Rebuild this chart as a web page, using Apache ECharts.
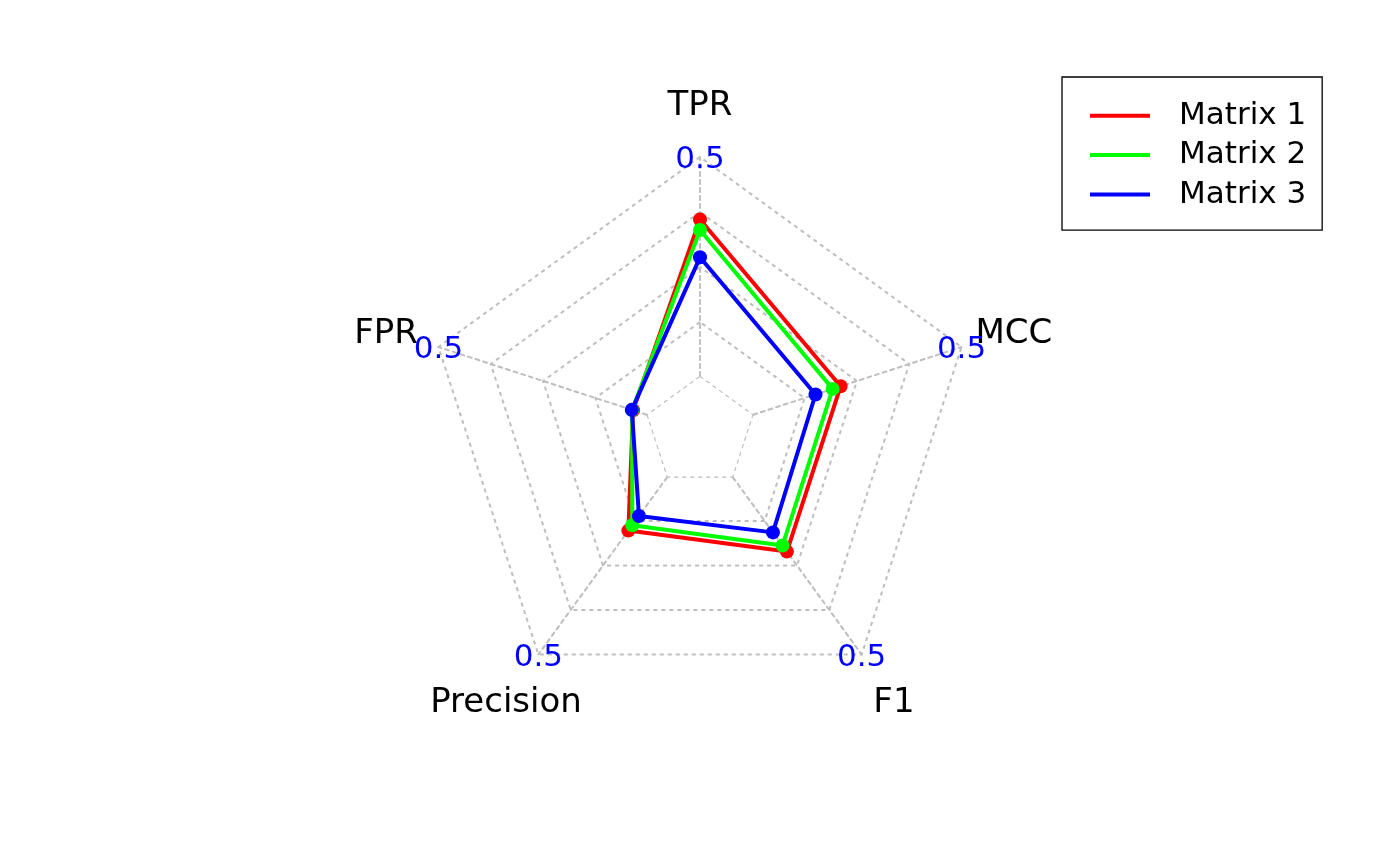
<!DOCTYPE html>
<html><head><meta charset="utf-8">
<script src="https://cdn.jsdelivr.net/npm/echarts@6/dist/echarts.min.js"></script>
<style>html,body{margin:0;padding:0;background:#fff}#c{width:1400px;height:865px}</style>
</head><body><div id="c"></div>
<script>
// Axes listed counter-clockwise from the top (as drawn)
const indicators = ['TPR', 'FPR', 'Precision', 'F1', 'MCC'];
const axisMin = [0, 0, 0, 0, 0];
const axisMax = [0.5, 0.5, 0.5, 0.5, 0.5];
const maxLabels = ['0.5', '0.5', '0.5', '0.5', '0.5'];
const seriesNames = ['Matrix 1', 'Matrix 2', 'Matrix 3'];
const matrix1 = [0.358, 0.035, 0.152, 0.211, 0.211];
const matrix2 = [0.334, 0.037, 0.137, 0.194, 0.192];
const matrix3 = [0.272, 0.038, 0.111, 0.157, 0.151];
const seriesValues = [matrix1, matrix2, matrix3];
const colors = ['#FF0000', '#00FF00', '#0000FF'];

const CX = 700, CY = 432, R = 275;
const FONT = 'DejaVu Sans';
const gridStyle = { color: '#bebebe', type: [4, 4], width: 2 };

// inner gap like fmsb (centerzero = FALSE, 4 segments): min sits at 1/5 of radius
const seg = 4;
const indicatorCfg = indicators.map((n, i) => ({
  name: n,
  min: axisMin[i] - (axisMax[i] - axisMin[i]) / seg,
  max: axisMax[i]
}));

const graphics = [];
indicators.forEach((n, i) => {
  const th = Math.PI / 2 + i * 2 * Math.PI / indicators.length;
  graphics.push({
    type: 'text', z: 10,
    style: { text: n, x: CX + 1.2 * R * Math.cos(th), y: CY - 1.2 * R * Math.sin(th) + 4,
      align: 'center', verticalAlign: 'middle', font: '34px "' + FONT + '"', fill: '#000' }
  });
});
indicators.forEach((n, i) => {
  const th = Math.PI / 2 + i * 2 * Math.PI / indicators.length;
  graphics.push({
    type: 'text', z: 11,
    style: { text: maxLabels[i], x: CX + R * Math.cos(th), y: CY - R * Math.sin(th) + 3,
      align: 'center', verticalAlign: 'middle', font: '31px "' + FONT + '"', fill: '#0000FF' }
  });
});

const series = [{
  type: 'radar', silent: true, z: 3, symbol: 'none',
  data: [{ value: axisMin, name: 'base' }],
  lineStyle: gridStyle,
  areaStyle: { color: '#ffffff', opacity: 1 }
}];
seriesNames.forEach((s, k) => {
  series.push({
    type: 'radar', name: s, z: 4 + k,
    symbol: 'circle', symbolSize: 14,
    data: [{ value: seriesValues[k], name: s }],
    itemStyle: { color: colors[k] },
    lineStyle: { color: colors[k], width: 4, type: 'solid' }
  });
});

const chart = echarts.init(document.getElementById('c'), null, { renderer: 'canvas' });
chart.setOption({
  animation: false,
  backgroundColor: '#ffffff',
  radar: {
    center: [CX, CY], radius: R, startAngle: 90, splitNumber: 5, shape: 'polygon',
    indicator: indicatorCfg,
    axisName: { show: false },
    axisLine: { lineStyle: gridStyle },
    splitLine: { lineStyle: gridStyle },
    splitArea: { show: false },
    axisTick: { show: false }, axisLabel: { show: false }
  },
  legend: {
    orient: 'vertical', left: 1062, top: 77, data: seriesNames,
    icon: 'rect', itemWidth: 60, itemHeight: 4, itemGap: 0,
    padding: [19, 16, 16, 28], borderColor: '#000', borderWidth: 1.3, backgroundColor: '#fff',
    selectedMode: false,
    itemStyle: { borderWidth: 0 },
    textStyle: { fontFamily: FONT, fontSize: 31, color: '#000', lineHeight: 38.4, padding: [1, 0, 0, 24] }
  },
  graphic: graphics,
  series: series
});
</script></body></html>
